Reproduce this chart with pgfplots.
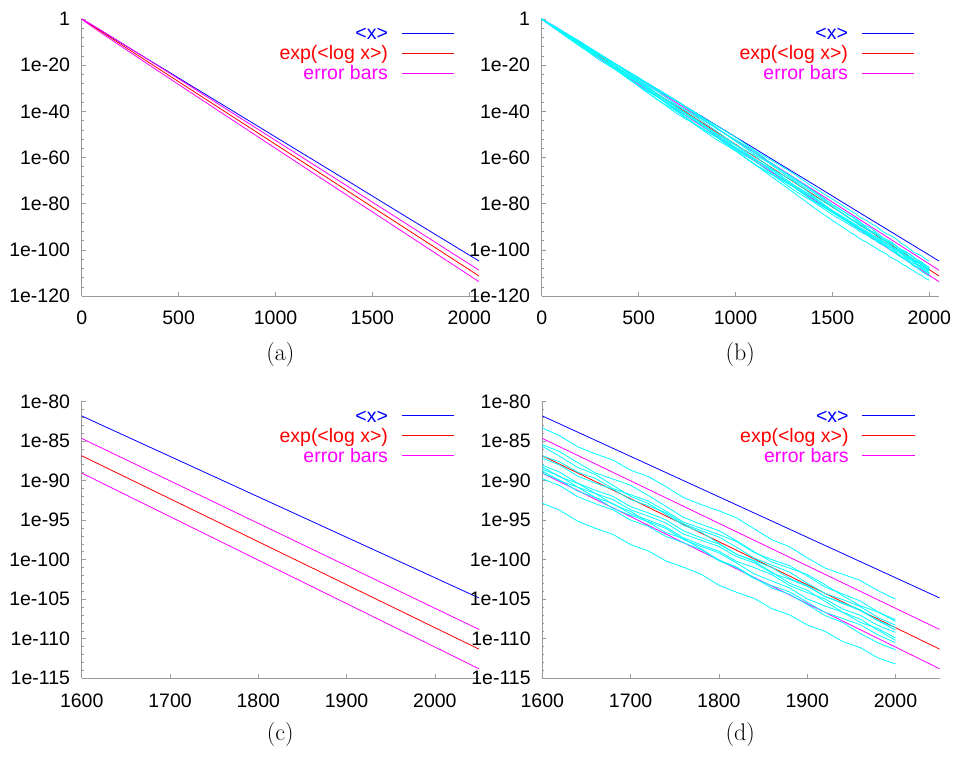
\documentclass[border=0pt]{standalone}
\usepackage{fontspec}
\newfontfamily\arial{Liberation Sans}
\usepackage{pgfplots}
\usepackage{pgfplotstable}
\pgfplotsset{compat=1.18}
\definecolor{gpblue}{RGB}{0,0,255}
\definecolor{gpred}{RGB}{255,0,0}
\definecolor{gpmagenta}{RGB}{255,0,255}
\definecolor{gpcyan}{RGB}{0,255,255}

% values are log10 of the plotted quantity
\pgfplotstableread{
x     mean    geo     hi      lo
0     0       0       0       0
25    -1.28   -1.36   -1.08   -1.63
50    -2.56   -2.72   -2.33   -3.10
100   -5.11   -5.43   -4.88   -5.98
200   -10.22  -10.86  -10.09  -11.64
300   -15.33  -16.29  -15.34  -17.24
400   -20.44  -21.72  -20.62  -22.82
600   -30.66  -32.58  -31.24  -33.92
800   -40.88  -43.44  -41.89  -44.99
1000  -51.10  -54.30  -52.57  -56.03
1200  -61.32  -65.16  -63.26  -67.06
1400  -71.54  -76.02  -73.97  -78.07
1600  -81.85  -86.88  -84.69  -89.07
1700  -86.96  -92.31  -90.05  -94.57
1800  -92.07  -97.74  -95.42  -100.07
1900  -97.18  -103.17 -100.78 -105.56
2000  -102.29 -108.60 -106.15 -111.05
2050  -104.85 -111.32 -108.83 -113.80
}\curves

\pgfplotstableread{
x    w1      w2      w3      w4      w5      w6      w7      w8      w9      w10     w11     w12
0    0       0       0       0       0       0       0       0       0       0       0       0
100  -5.03   -4.83   -5.73   -4.93   -5.93   -5.13   -5.83   -5.03   -6.03   -5.73   -5.93   -5.83
200  -9.96   -10.56  -10.66  -9.86   -11.06  -11.06  -11.76  -10.76  -11.96  -10.66  -11.86  -11.76
300  -15.09  -15.39  -15.69  -15.69  -17.09  -15.89  -16.79  -16.69  -16.99  -16.59  -17.89  -16.89
400  -20.72  -20.32  -21.62  -20.52  -22.12  -20.82  -22.82  -21.52  -23.12  -22.52  -22.92  -22.92
500  -25.55  -26.05  -26.65  -25.35  -26.95  -26.65  -27.85  -27.45  -29.15  -27.55  -29.05  -28.85
600  -30.48  -30.88  -31.58  -31.08  -32.88  -32.58  -33.98  -33.38  -35.18  -33.68  -35.08  -33.98
700  -35.51  -35.71  -37.31  -35.81  -37.71  -38.61  -39.01  -38.41  -40.21  -39.61  -41.11  -40.01
800  -41.24  -41.54  -42.14  -40.84  -42.64  -43.64  -43.94  -44.44  -46.34  -44.64  -46.14  -45.94
900  -46.07  -47.37  -47.07  -46.87  -48.47  -49.67  -50.07  -49.47  -52.17  -50.67  -51.07  -51.07
1000 -51.20  -52.30  -52.90  -52.90  -54.50  -54.70  -56.10  -55.60  -57.10  -56.60  -57.10  -56.90
1100 -57.03  -57.33  -58.83  -58.03  -59.43  -60.73  -61.03  -60.63  -63.13  -61.63  -63.03  -63.03
1200 -61.86  -63.36  -63.66  -64.06  -65.46  -65.76  -65.96  -66.66  -67.86  -67.66  -68.06  -69.16
1300 -66.99  -69.29  -68.69  -69.99  -70.39  -71.89  -71.99  -72.59  -72.79  -72.69  -74.09  -75.19
1400 -72.82  -74.42  -74.42  -75.12  -76.42  -76.92  -77.12  -77.62  -78.62  -78.72  -79.12  -81.42
1500 -78.05  -80.35  -80.45  -81.15  -81.35  -82.95  -83.15  -83.55  -83.55  -83.85  -84.75  -87.25
1600 -83.38  -85.48  -85.68  -86.88  -87.18  -88.08  -88.28  -88.58  -88.78  -89.08  -89.78  -92.88
1620 -84.37  -86.37  -86.97  -87.67  -88.07  -88.97  -89.57  -89.47  -90.07  -89.97  -90.67  -93.77
1640 -85.75  -87.75  -88.35  -88.95  -89.45  -90.35  -90.35  -90.85  -90.85  -91.35  -92.05  -95.15
1660 -86.64  -89.04  -89.24  -89.74  -90.34  -91.24  -91.64  -91.64  -92.14  -92.14  -92.94  -96.04
1680 -87.42  -89.82  -90.62  -91.02  -91.12  -92.02  -93.02  -92.42  -93.52  -92.92  -93.72  -96.82
1700 -88.71  -90.61  -92.01  -91.81  -92.41  -93.31  -93.91  -93.71  -94.41  -94.21  -95.01  -98.11
1720 -89.50  -91.90  -92.90  -92.60  -93.20  -94.10  -95.30  -94.50  -95.20  -95.00  -95.80  -98.90
1740 -90.78  -93.28  -94.28  -93.88  -94.08  -94.98  -96.58  -95.38  -96.08  -95.88  -97.08  -100.18
1760 -92.17  -94.67  -95.67  -95.27  -95.47  -96.37  -97.37  -96.77  -97.47  -97.27  -97.87  -100.97
1780 -93.05  -95.55  -96.55  -96.05  -96.35  -97.25  -98.65  -97.55  -98.35  -98.15  -98.75  -101.85
1800 -93.84  -96.34  -97.94  -96.84  -97.14  -98.04  -100.04 -98.34  -99.14  -98.94  -100.14 -103.24
1820 -94.73  -97.63  -99.33  -97.73  -98.43  -99.33  -100.93 -99.63  -100.43 -100.23 -101.03 -104.13
1840 -96.11  -99.01  -100.21 -99.11  -99.81  -100.11 -102.31 -100.41 -101.81 -101.01 -102.41 -104.91
1860 -97.50  -100.30 -101.60 -100.00 -100.70 -101.00 -103.60 -101.70 -102.70 -101.90 -103.30 -106.20
1880 -98.38  -101.08 -102.98 -100.78 -101.58 -102.38 -104.38 -102.48 -103.58 -103.28 -104.08 -106.98
1900 -99.77  -101.87 -103.87 -102.07 -102.97 -103.27 -105.67 -103.37 -104.97 -104.17 -105.37 -108.27
1920 -101.06 -103.16 -105.26 -103.46 -104.26 -104.66 -107.06 -104.66 -105.86 -104.96 -106.66 -109.06
1940 -101.84 -104.54 -106.64 -104.34 -105.04 -105.54 -107.94 -105.44 -106.64 -106.24 -107.44 -110.34
1960 -102.63 -105.83 -107.53 -105.23 -105.93 -106.43 -109.33 -106.33 -107.93 -107.03 -108.23 -111.13
1980 -103.91 -106.61 -108.91 -106.61 -107.31 -107.71 -110.51 -107.71 -108.71 -108.31 -109.51 -112.41
2000 -105.00 -107.80 -110.20 -107.60 -108.30 -108.90 -111.40 -108.60 -109.90 -109.20 -110.50 -113.20
}\walks

\pgfplotsset{
  gp/.style={
    scale only axis, width=397.3pt, height=277pt, anchor=south west,
    axis x line*=bottom, axis y line*=left,
    axis line style={gray!80, line width=0.5pt},
    tick align=inside, major tick length=4pt, minor tick length=2pt,
    every tick/.style={gray!80, line width=0.5pt},
    minor y tick num=4,
    tick label style={font=\arial\fontsize{19.5}{22}\selectfont, inner sep=0pt},
    xticklabel style={yshift=-15pt},
    yticklabel style={xshift=-11.5pt},
    /pgf/number format/assume math mode=true,
    every axis plot/.append style={line width=0.8pt},
  },
  full/.style={xmin=0, xmax=2050, ymin=-120, ymax=0,
    xtick={0,500,1000,1500,2000}, xticklabels={0,500,1000,1500,2000},
    ytick={-120,-100,-80,-60,-40,-20,0},
    yticklabels={1e-120,1e-100,1e-80,1e-60,1e-40,1e-20,1}},
  zoomed/.style={xmin=1600, xmax=2050, ymin=-115, ymax=-80,
    xtick={1600,1700,1800,1900,2000}, xticklabels={1600,1700,1800,1900,2000},
    ytick={-115,-110,-105,-100,-95,-90,-85,-80},
    yticklabels={1e-115,1e-110,1e-105,1e-100,1e-95,1e-90,1e-85,1e-80}},
}

\newcommand\meanlines{%
  \addplot[gpblue] table[x=x, y=mean] {\curves};
  \addplot[gpred] table[x=x, y=geo] {\curves};
  \addplot[gpmagenta] table[x=x, y=hi] {\curves};
  \addplot[gpmagenta] table[x=x, y=lo] {\curves};
}
\newcommand\walklines{%
  \pgfplotsinvokeforeach{1,...,12}{
    \addplot[gpcyan] table[x=x, y=w##1] {\walks};
  }
}
% gnuplot-style key: text right-aligned, sample bar to its right
\newcommand\keyrow[3]{%
  \fill[#1] ([yshift=-0.5pt]axis description cs:0.8054,#2) rectangle
            ([yshift=0.5pt]axis description cs:0.9371,#2);
  \node[anchor=base east, inner sep=0pt, text=#1, yshift=-6.5pt,
    font=\arial\fontsize{19.5}{22}\selectfont] at (axis description cs:0.7713,#2) {#3};
}
\newcommand\gpkey{%
  \keyrow{gpblue}{0.9484}{<x>}
  \keyrow{gpred}{0.8762}{exp(<log x>)}
  \keyrow{gpmagenta}{0.8040}{error bars}
}

\begin{document}
\begin{tikzpicture}
\useasboundingbox (0,0) rectangle (953pt,758pt);

\begin{axis}[gp, full, at={(81.7pt,462pt)}]
\meanlines
\gpkey
\end{axis}

\begin{axis}[gp, full, at={(541.7pt,462pt)}]
\meanlines
\walklines
\gpkey
\end{axis}

\begin{axis}[gp, zoomed, at={(81.7pt,79.7pt)}]
\meanlines
\gpkey
\end{axis}

\begin{axis}[gp, zoomed, at={(542.3pt,79.7pt)}]
\meanlines
\walklines
\gpkey
\end{axis}

\node[anchor=base, font=\fontsize{24}{28}\selectfont] at (280.3pt,397pt) {(a)};
\node[anchor=base, font=\fontsize{24}{28}\selectfont] at (740.3pt,397pt) {(b)};
\node[anchor=base, font=\fontsize{24}{28}\selectfont] at (280.3pt,17.5pt) {(c)};
\node[anchor=base, font=\fontsize{24}{28}\selectfont] at (740.3pt,17.5pt) {(d)};
\end{tikzpicture}
\end{document}
